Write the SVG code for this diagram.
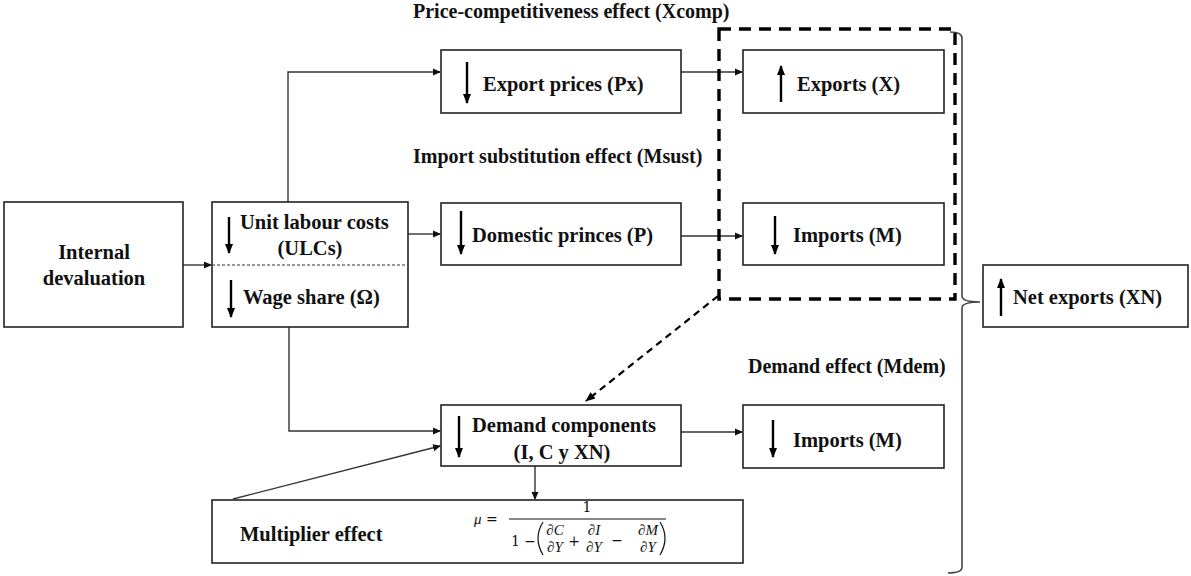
<svg xmlns="http://www.w3.org/2000/svg" width="1191" height="576" viewBox="0 0 1191 576">
<defs>
<marker id="ah" markerWidth="8" markerHeight="8" refX="7" refY="4" orient="auto" markerUnits="userSpaceOnUse"><path d="M0,0.5 L8,4 L0,7.5 Z" fill="#111"/></marker>
<marker id="bh" viewBox="0 0 10 8" markerWidth="10" markerHeight="8" refX="9" refY="4" orient="auto" markerUnits="userSpaceOnUse"><path d="M0,0 L10,4 L0,8 Z" fill="#000"/></marker>
<marker id="dh" markerWidth="10" markerHeight="10" refX="9" refY="5" orient="auto" markerUnits="userSpaceOnUse"><path d="M0,1 L10,5 L0,9 Z" fill="#000"/></marker>
<style>
.box{fill:#fff;stroke:#222;stroke-width:1.6}
.t{font-family:"Liberation Serif","Times New Roman",serif;font-weight:bold;font-size:20.5px;fill:#111}
.h{font-family:"Liberation Serif","Times New Roman",serif;font-weight:bold;font-size:20px;fill:#111}
.c{fill:none;stroke:#333;stroke-width:1.4}
.big{stroke:#000;stroke-width:2.4;fill:none}
.m{font-family:"DejaVu Serif","Liberation Serif",serif;font-size:14px;fill:#111}
.mi{font-family:"Liberation Serif",serif;font-style:italic;font-size:15px;fill:#111}
</style>
</defs>

<text class="h" x="413" y="18">Price-competitiveness effect (Xcomp)</text>
<text class="h" x="413" y="163">Import substitution effect (Msust)</text>
<text class="h" x="748" y="373">Demand effect (Mdem)</text>

<g id="connectors">
<line class="c" x1="183" y1="265" x2="211" y2="265" marker-end="url(#ah)"/>
<polyline class="c" points="288,202 288,72 440,72" marker-end="url(#ah)"/>
<line class="c" x1="408" y1="234" x2="440" y2="234" marker-end="url(#ah)"/>
<polyline class="c" points="289,327 289,431 440,431" marker-end="url(#ah)"/>
<line class="c" x1="233" y1="499" x2="440" y2="446" marker-end="url(#ah)"/>
<line class="c" x1="535" y1="466" x2="535" y2="499" marker-end="url(#ah)"/>
<line class="c" x1="681" y1="432" x2="742" y2="432" marker-end="url(#ah)"/>
<line class="c" x1="681" y1="72" x2="742" y2="72" marker-end="url(#ah)"/>
<line class="c" x1="681" y1="236" x2="742" y2="236" marker-end="url(#ah)"/>
<line x1="718" y1="296" x2="586" y2="401" stroke="#000" stroke-width="2.2" stroke-dasharray="7,5" marker-end="url(#dh)"/>
<path d="M950,32 Q962,32 962,38 L962,296 Q962,302 980,302 Q962,302 962,308 L962,567 Q962,573 948,573" fill="none" stroke="#444" stroke-width="1.6"/>
</g>

<rect x="719" y="29" width="236" height="270" fill="none" stroke="#000" stroke-width="3.4" stroke-dasharray="12,8"/>

<g id="internal">
<rect class="box" x="4" y="202" width="179" height="125"/>
<text class="t" x="94" y="259" text-anchor="middle">Internal</text>
<text class="t" x="94" y="285" text-anchor="middle">devaluation</text>
</g>

<g id="ulc">
<rect class="box" x="212" y="202" width="196" height="125"/>
<line x1="212" y1="265" x2="408" y2="265" stroke="#333" stroke-width="1.2" stroke-dasharray="3,2"/>
<line class="big" x1="229" y1="217" x2="229" y2="253" marker-end="url(#bh)"/>
<text class="t" x="240" y="229">Unit labour costs</text>
<text class="t" x="310" y="255" text-anchor="middle">(ULCs)</text>
<line class="big" x1="231" y1="280" x2="231" y2="317" marker-end="url(#bh)"/>
<text class="t" x="243" y="304">Wage share (Ω)</text>
</g>

<g id="export-prices">
<rect class="box" x="441" y="50" width="240" height="63"/>
<line class="big" x1="467" y1="62" x2="467" y2="103" marker-end="url(#bh)"/>
<text class="t" x="483" y="91">Export prices (Px)</text>
</g>

<g id="exports">
<rect class="box" x="743" y="50" width="201" height="63"/>
<line class="big" x1="781" y1="102" x2="781" y2="66" marker-end="url(#bh)"/>
<text class="t" x="797" y="91">Exports (X)</text>
</g>

<g id="domestic">
<rect class="box" x="441" y="203" width="240" height="62"/>
<line class="big" x1="461" y1="211" x2="461" y2="254" marker-end="url(#bh)"/>
<text class="t" x="472" y="242">Domestic princes (P)</text>
</g>

<g id="imports1">
<rect class="box" x="743" y="203" width="201" height="62"/>
<line class="big" x1="775" y1="216" x2="775" y2="254" marker-end="url(#bh)"/>
<text class="t" x="793" y="242">Imports (M)</text>
</g>

<g id="demand">
<rect class="box" x="441" y="405" width="240" height="61"/>
<line class="big" x1="459" y1="416" x2="459" y2="457" marker-end="url(#bh)"/>
<text class="t" x="472" y="432">Demand components</text>
<text class="t" x="562" y="459" text-anchor="middle">(I, C y XN)</text>
</g>

<g id="imports2">
<rect class="box" x="743" y="405" width="201" height="63"/>
<line class="big" x1="773" y1="420" x2="773" y2="457" marker-end="url(#bh)"/>
<text class="t" x="793" y="447">Imports (M)</text>
</g>

<g id="net-exports">
<rect class="box" x="983" y="265" width="205" height="62"/>
<line class="big" x1="1001" y1="316" x2="1001" y2="279" marker-end="url(#bh)"/>
<text class="t" x="1013" y="304">Net exports (XN)</text>
</g>

<g id="multiplier">
<rect class="box" x="212" y="500" width="531" height="63"/>
<text class="t" x="240" y="541">Multiplier effect</text>
<text class="mi" x="474" y="524">μ</text>
<text class="m" x="486" y="524">=</text>
<line x1="509" y1="519" x2="666" y2="519" stroke="#111" stroke-width="1"/>
<text class="m" x="587" y="512" text-anchor="middle">1</text>
<text class="m" x="511" y="546">1 −</text>
<path d="M543,522 Q533,538 543,555" fill="none" stroke="#111" stroke-width="1.2"/>
<text class="mi" x="555" y="535" text-anchor="middle">∂C</text>
<text class="mi" x="555" y="552" text-anchor="middle">∂Y</text>
<text class="m" x="574" y="546" text-anchor="middle">+</text>
<text class="mi" x="594" y="535" text-anchor="middle">∂I</text>
<text class="mi" x="594" y="552" text-anchor="middle">∂Y</text>
<text class="m" x="617" y="545" text-anchor="middle">−</text>
<text class="mi" x="648" y="535" text-anchor="middle">∂M</text>
<text class="mi" x="648" y="552" text-anchor="middle">∂Y</text>
<path d="M660,522 Q670,538 660,555" fill="none" stroke="#111" stroke-width="1.2"/>
</g>
</svg>
